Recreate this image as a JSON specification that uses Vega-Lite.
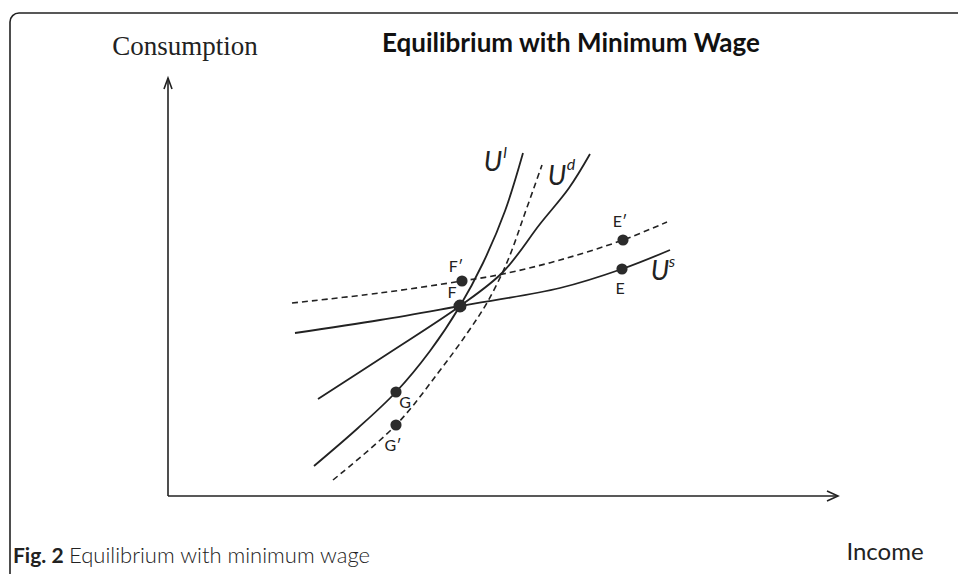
{
  "$schema": "https://vega.github.io/schema/vega-lite/v6.json",
  "width": 958,
  "height": 574,
  "padding": 0,
  "autosize": {"type": "none"},
  "config": {"view": {"stroke": null}},
  "datasets": {
    "frame": [{"x": -158, "x2": 900, "y": 483, "y2": -200}],
    "solid": [
      {"c": "Ul", "i": 0, "x": 146, "y": 30}, {"c": "Ul", "i": 1, "x": 190, "y": 68}, {"c": "Ul", "i": 2, "x": 228, "y": 104}, {"c": "Ul", "i": 3, "x": 262, "y": 145}, {"c": "Ul", "i": 4, "x": 292, "y": 190}, {"c": "Ul", "i": 5, "x": 315, "y": 233}, {"c": "Ul", "i": 6, "x": 337, "y": 285}, {"c": "Ul", "i": 7, "x": 355, "y": 343},
      {"c": "Ud", "i": 0, "x": 150, "y": 97}, {"c": "Ud", "i": 1, "x": 221, "y": 143}, {"c": "Ud", "i": 2, "x": 292, "y": 190}, {"c": "Ud", "i": 3, "x": 335, "y": 224}, {"c": "Ud", "i": 4, "x": 372, "y": 272}, {"c": "Ud", "i": 5, "x": 401, "y": 308}, {"c": "Ud", "i": 6, "x": 422, "y": 342},
      {"c": "Us", "i": 0, "x": 127, "y": 163}, {"c": "Us", "i": 1, "x": 212, "y": 176}, {"c": "Us", "i": 2, "x": 292, "y": 190}, {"c": "Us", "i": 3, "x": 392, "y": 208}, {"c": "Us", "i": 4, "x": 454, "y": 227}, {"c": "Us", "i": 5, "x": 502, "y": 246}
    ],
    "dashed": [
      {"c": "Ul2", "i": 0, "x": 165, "y": 16}, {"c": "Ul2", "i": 1, "x": 228, "y": 71}, {"c": "Ul2", "i": 2, "x": 270, "y": 123}, {"c": "Ul2", "i": 3, "x": 300, "y": 164}, {"c": "Ul2", "i": 4, "x": 320, "y": 195}, {"c": "Ul2", "i": 5, "x": 340, "y": 236}, {"c": "Ul2", "i": 6, "x": 357, "y": 283}, {"c": "Ul2", "i": 7, "x": 374, "y": 331},
      {"c": "Us2", "i": 0, "x": 124, "y": 193}, {"c": "Us2", "i": 1, "x": 212, "y": 203}, {"c": "Us2", "i": 2, "x": 294, "y": 215}, {"c": "Us2", "i": 3, "x": 335, "y": 222}, {"c": "Us2", "i": 4, "x": 392, "y": 236}, {"c": "Us2", "i": 5, "x": 455, "y": 256}, {"c": "Us2", "i": 6, "x": 499, "y": 274}
    ],
    "axes": [
      {"s": "ya", "i": 0, "x": 0, "y": 0}, {"s": "ya", "i": 1, "x": 0, "y": 418},
      {"s": "yh", "i": 0, "x": -4, "y": 407}, {"s": "yh", "i": 1, "x": 0, "y": 418}, {"s": "yh", "i": 2, "x": 4, "y": 407},
      {"s": "xa", "i": 0, "x": 0, "y": 0}, {"s": "xa", "i": 1, "x": 670, "y": 0},
      {"s": "xh", "i": 0, "x": 659, "y": 5}, {"s": "xh", "i": 1, "x": 670, "y": 0}, {"s": "xh", "i": 2, "x": 659, "y": -5}
    ],
    "points": [
      {"p": "F′", "x": 294, "y": 215}, {"p": "E", "x": 454, "y": 227}, {"p": "E′", "x": 455, "y": 256}, {"p": "G", "x": 228, "y": 104}, {"p": "G′", "x": 228, "y": 71}
    ],
    "bigpoints": [
      {"p": "F", "x": 292, "y": 190}
    ],
    "plabels": [
      {"t": "F", "x": 284, "y": 203}, {"t": "F′", "x": 288, "y": 229}, {"t": "E′", "x": 452, "y": 274}, {"t": "E", "x": 452, "y": 207}, {"t": "G", "x": 237, "y": 93}, {"t": "G′", "x": 225, "y": 50}
    ],
    "ulabels": [
      {"t": "U", "x": 325, "y": 333}, {"t": "U", "x": 389, "y": 319}, {"t": "U", "x": 492, "y": 224}
    ],
    "sups": [
      {"t": "l", "x": 337, "y": 343}, {"t": "d", "x": 403, "y": 331}, {"t": "s", "x": 504, "y": 234}
    ]
  },
  "encoding": {
    "x": {"field": "x", "type": "quantitative", "scale": {"domain": [-168, 790], "nice": false, "zero": false}, "axis": null},
    "y": {"field": "y", "type": "quantitative", "scale": {"domain": [-78, 496], "nice": false, "zero": false}, "axis": null}
  },
  "layer": [
    {
      "data": {"name": "frame"},
      "mark": {"type": "rect", "fillOpacity": 0, "stroke": "#222", "strokeWidth": 1.6, "cornerRadius": 9},
      "encoding": {"x2": {"field": "x2"}, "y2": {"field": "y2"}}
    },
    {
      "data": {"name": "axes"},
      "mark": {"type": "line", "color": "#222", "strokeWidth": 1.6},
      "encoding": {"detail": {"field": "s"}, "order": {"field": "i"}}
    },
    {
      "data": {"name": "solid"},
      "mark": {"type": "line", "color": "#222", "strokeWidth": 1.8, "interpolate": "catmull-rom"},
      "encoding": {"detail": {"field": "c"}, "order": {"field": "i"}}
    },
    {
      "data": {"name": "dashed"},
      "mark": {"type": "line", "color": "#222", "strokeWidth": 1.6, "strokeDash": [6, 4], "interpolate": "catmull-rom"},
      "encoding": {"detail": {"field": "c"}, "order": {"field": "i"}}
    },
    {
      "data": {"name": "points"},
      "mark": {"type": "circle", "color": "#2b2b2b", "opacity": 1, "size": 125}
    },
    {
      "data": {"name": "bigpoints"},
      "mark": {"type": "circle", "color": "#2b2b2b", "opacity": 1, "size": 170}
    },
    {
      "data": {"name": "plabels"},
      "mark": {"type": "text", "font": "Lato", "fontSize": 16, "color": "#222", "align": "center", "baseline": "middle"},
      "encoding": {"text": {"field": "t"}}
    },
    {
      "data": {"name": "ulabels"},
      "mark": {"type": "text", "font": "Lato", "fontSize": 27, "fontStyle": "italic", "color": "#222", "align": "center", "baseline": "middle"},
      "encoding": {"text": {"field": "t"}}
    },
    {
      "data": {"name": "sups"},
      "mark": {"type": "text", "font": "Lato", "fontSize": 16, "fontStyle": "italic", "color": "#222", "align": "center", "baseline": "middle"},
      "encoding": {"text": {"field": "t"}}
    },
    {
      "data": {"values": [{"t": "Consumption", "x": 17, "y": 441}]},
      "mark": {"type": "text", "font": "Liberation Serif", "fontSize": 27, "color": "#222", "align": "center", "baseline": "alphabetic"},
      "encoding": {"text": {"field": "t"}}
    },
    {
      "data": {"values": [{"t": "Equilibrium with Minimum Wage", "x": 403, "y": 444}]},
      "mark": {"type": "text", "font": "Lato", "fontSize": 26, "fontWeight": "bold", "color": "#111", "align": "center", "baseline": "alphabetic"},
      "encoding": {"text": {"field": "t"}}
    },
    {
      "data": {"values": [{"t": "Income", "x": 717, "y": -64}]},
      "mark": {"type": "text", "font": "Lato", "fontSize": 24, "color": "#222", "align": "center", "baseline": "alphabetic"},
      "encoding": {"text": {"field": "t"}}
    },
    {
      "data": {"values": [{"t": "Fig. 2", "x": -155, "y": -67}]},
      "mark": {"type": "text", "font": "Lato", "fontSize": 21, "fontWeight": "bold", "color": "#222", "align": "left", "baseline": "alphabetic"},
      "encoding": {"text": {"field": "t"}}
    },
    {
      "data": {"values": [{"t": "Equilibrium with minimum wage", "x": -99, "y": -67}]},
      "mark": {"type": "text", "font": "Lato", "fontSize": 22, "fontWeight": 300, "color": "#222", "align": "left", "baseline": "alphabetic"},
      "encoding": {"text": {"field": "t"}}
    }
  ]
}
